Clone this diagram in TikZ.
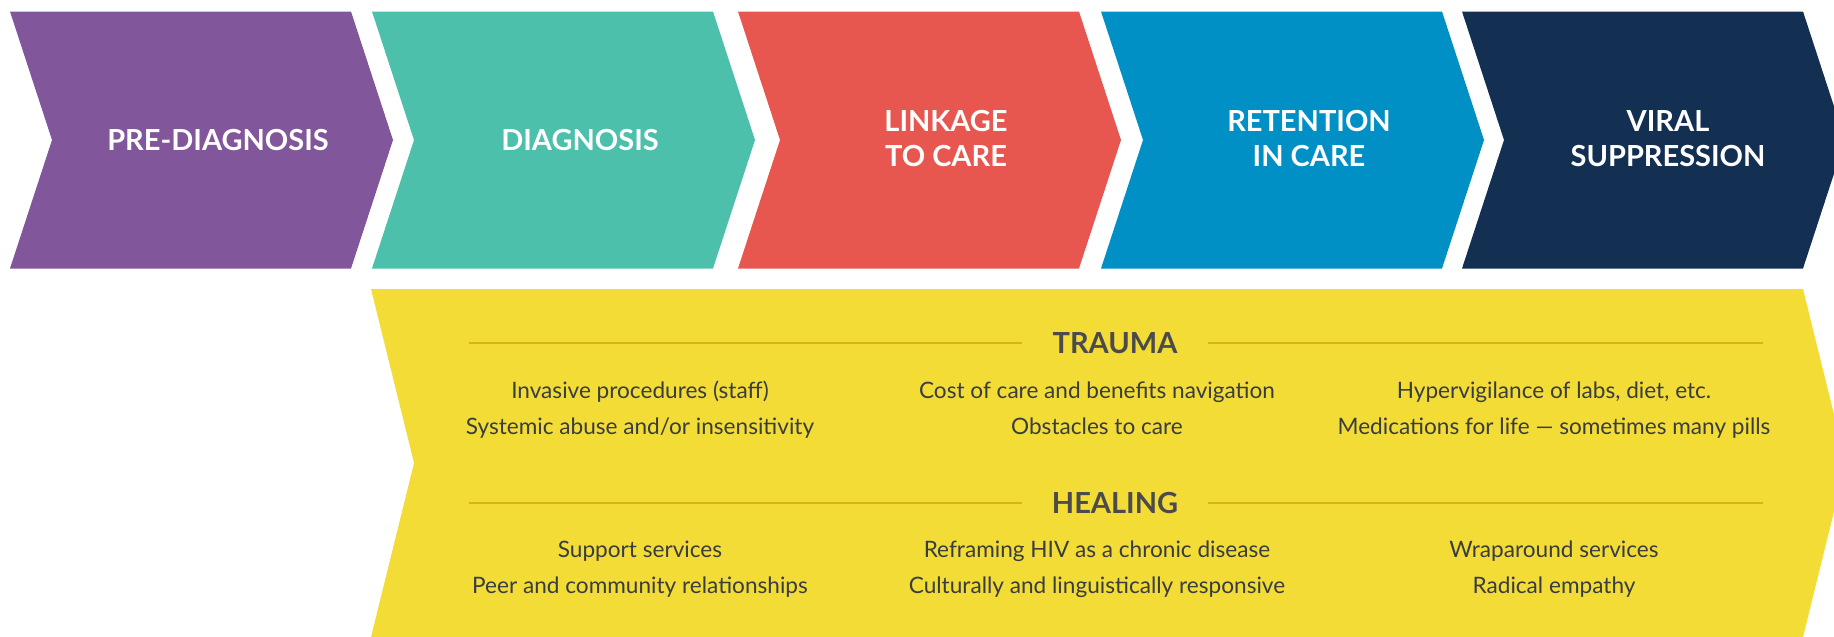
\documentclass[tikz,border=0pt]{standalone}
\usepackage{fontspec}
\setmainfont{Lato}
\usepackage{tikz}
\usetikzlibrary{positioning}
\usepackage{xcolor}

\definecolor{cpurple}{HTML}{82569A}
\definecolor{cteal}{HTML}{4DC0AC}
\definecolor{cred}{HTML}{E8574F}
\definecolor{cblue}{HTML}{0090C5}
\definecolor{cnavy}{HTML}{132F52}
\definecolor{cyellow}{HTML}{F4DC37}
\definecolor{crule}{HTML}{D8B512}
\definecolor{ctext}{HTML}{383D40}
\definecolor{chead}{HTML}{4B4B4B}

\tikzset{
  steplabel/.style={anchor=base,text=white,inner sep=0pt,font=\fontsize{29}{34}\selectfont\bfseries},
  item/.style={anchor=base,text=ctext,inner sep=0pt,font=\fontsize{22.6}{27}\selectfont},
  heading/.style={text=chead,inner xsep=30pt,inner ysep=0pt,font=\fontsize{29}{34}\selectfont\bfseries},
  rule/.style={draw=crule,line width=1.5pt}
}

\begin{document}
\begin{tikzpicture}[x=1pt,y=-1pt]
\useasboundingbox (0,0) rectangle (1834,637);
% stages
\fill [cpurple] (10,11.5)--(351,11.5)--(393,140)--(351,268.5)--(10,268.5)--(52,140)--cycle;
\fill [cteal] (372,11.5)--(713,11.5)--(755,140)--(713,268.5)--(372,268.5)--(414,140)--cycle;
\fill [cred] (738,11.5)--(1079,11.5)--(1121,140)--(1079,268.5)--(738,268.5)--(780,140)--cycle;
\fill [cblue] (1101,11.5)--(1442,11.5)--(1484,140)--(1442,268.5)--(1101,268.5)--(1143,140)--cycle;
\fill [cnavy] (1462,11.5)--(1803,11.5)--(1845,140)--(1803,268.5)--(1462,268.5)--(1504,140)--cycle;
\node [steplabel] (prediag) at (218,150) {PRE-DIAGNOSIS};
\node [steplabel] (diag) at (580,150) {DIAGNOSIS};
\node [steplabel] (link) at (946,131) {LINKAGE};
\node [steplabel] (link2) at (946,166) {TO CARE};
\node [steplabel] (ret) at (1309,131) {RETENTION};
\node [steplabel] (ret2) at (1309,166) {IN CARE};
\node [steplabel] (vir) at (1668,131) {VIRAL};
\node [steplabel] (vir2) at (1668,166) {SUPPRESSION};
% trauma and healing band
\fill [cyellow] (371,289)--(1803,289)--(1846,463)--(1803,637)--(371,637)--(414,463)--cycle;
\node [heading] (trauma) at (1115,343) {TRAUMA};
\node [heading] (healing) at (1115,503) {HEALING};
\coordinate (tl) at (469,343);
\coordinate (tr) at (1763,343);
\coordinate (hl) at (469,503);
\coordinate (hr) at (1763,503);
\draw [rule] (tl)--(trauma.west);
\draw [rule] (trauma.east)--(tr);
\draw [rule] (hl)--(healing.west);
\draw [rule] (healing.east)--(hr);
\node [item] (ta1) at (640,398) {Invasive procedures (staff)};
\node [item] (ta2) at (640,434) {Systemic abuse and/or insensitivity};
\node [item] (tb1) at (1097,398) {Cost of care and benefits navigation};
\node [item] (tb2) at (1097,434) {Obstacles to care};
\node [item] (tc1) at (1554,398) {Hypervigilance of labs, diet, etc.};
\node [item] (tc2) at (1554,434) {Medications for life — sometimes many pills};
\node [item] (ha1) at (640,557) {Support services};
\node [item] (ha2) at (640,593) {Peer and community relationships};
\node [item] (hb1) at (1097,557) {Reframing HIV as a chronic disease};
\node [item] (hb2) at (1097,593) {Culturally and linguistically responsive};
\node [item] (hc1) at (1554,557) {Wraparound services};
\node [item] (hc2) at (1554,593) {Radical empathy};
\end{tikzpicture}
\end{document}
